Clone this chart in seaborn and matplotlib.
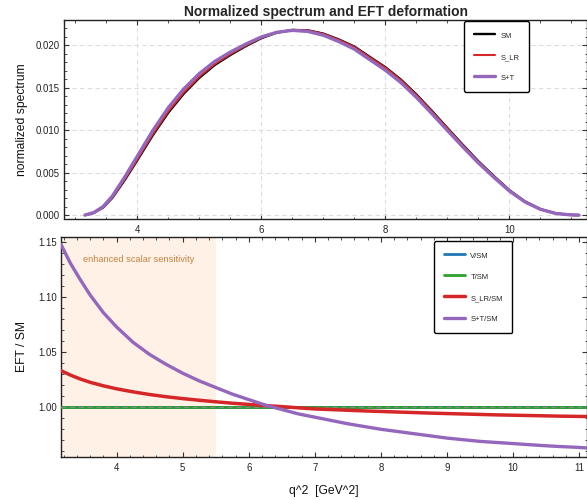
import matplotlib
matplotlib.use("Agg")
import matplotlib.pyplot as plt
from matplotlib.ticker import MultipleLocator, FormatStrFormatter
import pandas as pd
import seaborn as sns

# q^2 grid [GeV^2], from tau threshold to the kinematic endpoint
q2 = [3.158, 3.30, 3.45, 3.60, 3.80, 4.00, 4.25, 4.50, 4.75, 5.00, 5.25, 5.50,
      5.75, 6.00, 6.25, 6.50, 6.75, 7.00, 7.25, 7.50, 7.75, 8.00, 8.25, 8.50,
      8.75, 9.00, 9.25, 9.50, 9.75, 10.00, 10.25, 10.50, 10.75, 11.00, 11.12]

# normalized differential spectra
spec_sm = [0.0, 0.000265, 0.000896, 0.002042, 0.004144, 0.006449, 0.009396,
           0.012071, 0.014312, 0.016178, 0.017695, 0.018870, 0.019921, 0.020854,
           0.021507, 0.021822, 0.021785, 0.021396, 0.020704, 0.019869, 0.018643,
           0.017434, 0.015976, 0.014221, 0.012280, 0.010264, 0.008272, 0.006338,
           0.004593, 0.002928, 0.001607, 0.000702, 0.000193, 0.000020, 0.0]
spec_slr = [0.0, 0.000273, 0.000919, 0.002088, 0.004225, 0.006557, 0.009528,
            0.012211, 0.014449, 0.016306, 0.017808, 0.018964, 0.019995, 0.020908,
            0.021541, 0.021835, 0.021774, 0.021364, 0.020661, 0.019815, 0.018581,
            0.017368, 0.015907, 0.014153, 0.012215, 0.010206, 0.008222, 0.006297,
            0.004561, 0.002907, 0.001595, 0.000697, 0.000191, 0.000020, 0.0]
spec_st = [0.0, 0.000300, 0.001000, 0.002250, 0.004500, 0.006920, 0.009950,
           0.012650, 0.014870, 0.016680, 0.018120, 0.019210, 0.020160, 0.021000,
           0.021550, 0.021778, 0.021654, 0.021203, 0.020456, 0.019571, 0.018317,
           0.017085, 0.015625, 0.013880, 0.011961, 0.009977, 0.008028, 0.006142,
           0.004446, 0.002831, 0.001552, 0.000677, 0.000186, 0.000020, 0.0]

# ratios EFT / SM
ratio_v = [1.0, 1.0, 1.0, 1.0, 1.0, 1.0, 1.0, 1.0, 1.0, 1.0, 1.0, 1.0,
           1.0, 1.0, 1.0, 1.0, 1.0, 1.0, 1.0, 1.0, 1.0, 1.0, 1.0, 1.0,
           1.0, 1.0, 1.0, 1.0, 1.0, 1.0, 1.0, 1.0, 1.0, 1.0, 1.0]
ratio_t = [1.0, 1.0, 1.0, 1.0, 1.0, 1.0, 1.0, 1.0, 1.0, 1.0, 1.0, 1.0,
           1.0, 1.0, 1.0, 1.0, 1.0, 1.0, 1.0, 1.0, 1.0, 1.0, 1.0, 1.0,
           1.0, 1.0, 1.0, 1.0, 1.0, 1.0, 1.0, 1.0, 1.0, 1.0, 1.0]
ratio_slr = [1.0333, 1.0293, 1.0257, 1.0227, 1.0195, 1.0168, 1.0140, 1.0116,
             1.0096, 1.0079, 1.0064, 1.0050, 1.0037, 1.0026, 1.0016, 1.0006,
             0.9995, 0.9985, 0.9979, 0.9973, 0.9967, 0.9962, 0.9957, 0.9952,
             0.9947, 0.9943, 0.9939, 0.9935, 0.9931, 0.9928, 0.9925, 0.9922,
             0.9919, 0.9917, 0.9916]
ratio_st = [1.148, 1.131, 1.116, 1.102, 1.086, 1.073, 1.059, 1.048, 1.039,
            1.031, 1.024, 1.018, 1.012, 1.007, 1.002, 0.998, 0.994, 0.991,
            0.988, 0.985, 0.9825, 0.980, 0.978, 0.976, 0.974, 0.972, 0.9705,
            0.969, 0.968, 0.967, 0.966, 0.965, 0.9642, 0.9635, 0.963]

scalar_window = (3.158, 5.5)

sns.set_theme(style="ticks")
plt.rcParams["font.family"] = ["Liberation Sans", "DejaVu Sans"]
plt.rcParams["axes.edgecolor"] = "#222222"
plt.rcParams["axes.linewidth"] = 1.0

fig = plt.figure(figsize=(5.87, 5.0), dpi=100)
ax1 = fig.add_axes([64 / 587, 1 - 218.5 / 500, 523 / 587, 198.5 / 500])
ax2 = fig.add_axes([61 / 587, 1 - 457 / 500, 526 / 587, 220.3 / 500])

df_spec = pd.DataFrame({"q2": q2, "SM": spec_sm, "S_LR": spec_slr, "S+T": spec_st})
df_ratio = pd.DataFrame({"q2": q2, "V/SM": ratio_v, "T/SM": ratio_t,
                         "S_LR/SM": ratio_slr, "S+T/SM": ratio_st})

legend_kw = dict(loc="upper left", borderaxespad=0, fontsize=5.5, frameon=True,
                 fancybox=True, edgecolor="black", facecolor="white",
                 framealpha=1, borderpad=1.25, labelspacing=1.55,
                 handleheight=1.5, handlelength=2.85, handletextpad=0.66)


def style_axes(ax, xmaj, xmin, ymaj, ymin):
    ax.xaxis.set_major_locator(MultipleLocator(xmaj))
    ax.xaxis.set_minor_locator(MultipleLocator(xmin))
    ax.yaxis.set_major_locator(MultipleLocator(ymaj))
    ax.yaxis.set_minor_locator(MultipleLocator(ymin))
    ax.tick_params(which="both", direction="in", top=True, right=True,
                   color="#333333", labelcolor="#222222", labelsize=6.9)
    ax.tick_params(which="major", length=3.3, width=0.8)
    ax.tick_params(which="minor", length=1.8, width=0.6)
    ax.tick_params(axis="x", which="major", pad=4.5)
    ax.tick_params(axis="y", which="major", pad=3)
    for sp in ax.spines.values():
        sp.set_visible(True)
        sp.set_color("#222222")
        sp.set_linewidth(1.0)


# top panel: spectra
for name, color, lw in [("SM", "black", 1.7), ("S_LR", "#d62728", 1.5),
                        ("S+T", "#9467bd", 2.4)]:
    sns.lineplot(data=df_spec, x="q2", y=name, ax=ax1, color=color,
                 linewidth=lw, label=name)
ax1.set_xlim(2.82, 11.25)
ax1.set_ylim(-0.0004, 0.0230)
style_axes(ax1, 2, 0.5, 0.005, 0.001)
ax1.yaxis.set_major_formatter(FormatStrFormatter("%.3f"))
ax1.grid(True, which="major", color="#dedede", linestyle=(0, (4, 3)), linewidth=0.8)
ax1.set_axisbelow(True)
ax1.set_xlabel("")
ax1.set_ylabel("normalized spectrum", fontsize=8.7, color="#111111")
ax1.yaxis.set_label_coords(-0.0688, 0.5)
ax1.set_title("Normalized spectrum and EFT deformation", fontsize=10,
              fontweight="bold", pad=3)
leg1 = ax1.legend(bbox_to_anchor=(0.7648, 0.995), **legend_kw)
leg1.get_frame().set_linewidth(1.0)

# bottom panel: ratios to SM
ax2.axvspan(scalar_window[0], scalar_window[1], color="#ff7f0e", alpha=0.1,
            linewidth=0, zorder=0)
ax2.text(3.484, 1.1347, "enhanced scalar sensitivity", color="#c8823f",
         fontsize=6.7, ha="left", va="center")
for name, color, lw, z in [("V/SM", "#1f77b4", 2.0, 2), ("T/SM", "#2ca02c", 2.0, 3),
                           ("S_LR/SM", "#d62728", 2.5, 5), ("S+T/SM", "#9467bd", 2.4, 6)]:
    sns.lineplot(data=df_ratio, x="q2", y=name, ax=ax2, color=color,
                 linewidth=lw, label=name, zorder=z)
ax2.axhline(1.0, color="#888888", linestyle=(0, (4, 3)), linewidth=0.9, zorder=4)
ax2.set_xlim(q2[0], q2[-1])
ax2.set_ylim(0.9548, 1.1551)
style_axes(ax2, 1, 0.2, 0.05, 0.01)
ax2.yaxis.set_major_formatter(FormatStrFormatter("%.2f"))
ax2.set_xlabel("q^2  [GeV^2]", fontsize=8.7, color="#111111")
ax2.xaxis.set_label_coords(0.5, -0.126)
ax2.set_ylabel("EFT / SM", fontsize=8.7, color="#111111")
ax2.yaxis.set_label_coords(-0.0627, 0.5)
leg2 = ax2.legend(bbox_to_anchor=(0.7091, 0.9805), **legend_kw)
leg2.get_frame().set_linewidth(1.0)

fig.savefig("out.png", dpi=100)
